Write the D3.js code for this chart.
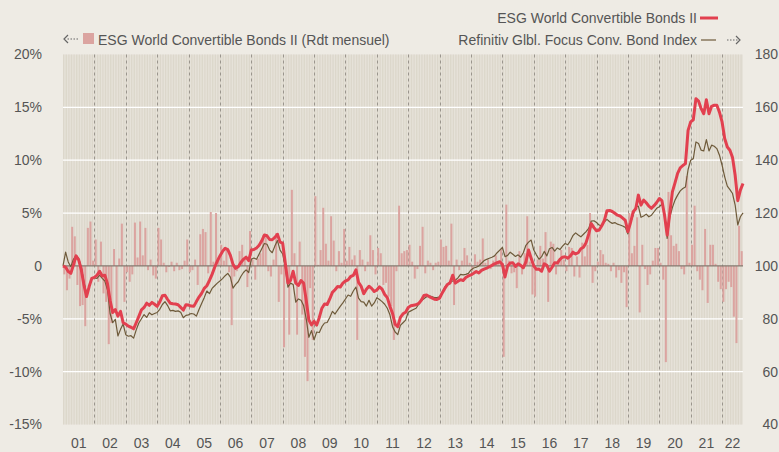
<!DOCTYPE html>
<html>
<head>
<meta charset="utf-8">
<script src="https://cdn.jsdelivr.net/npm/d3@7"></script>
<style>
  body { margin: 0; background: #eeebe4; }
  svg { display: block; font-family: "Liberation Sans", Arial, sans-serif; }
  .tick text { fill: #555; font-size: 14px; }
</style>
</head>
<body>
<div id="chart"></div>
<script>
// index values at month ends, Dec 2000 = 100
const esgIndex = [
  100, 99.5, 97.9, 97.2, 100.4, 103.8, 102.3, 98.5, 92.8, 88.4, 92.2, 95.3, 95.7,
  96.5, 98, 96.2, 96.5, 93.3, 87, 82.4, 83.5, 81, 82.8, 78.5, 78,
  77.2, 76.8, 76.2, 78.5, 80.9, 83.4, 84.3, 85.9, 85.1, 86.2, 85.5, 84.7,
  86.4, 88.7, 88.9, 87.3, 85.9, 85.7, 85.6, 85.3, 84.3, 83.3, 85.3, 85.2,
  84.8, 84.7, 86.5, 88.2, 89.6, 91.5, 92.5, 94.5, 96.8, 99.5, 101.8, 103.8,
  105.5, 106.7, 106.2, 104, 100.6, 99.1, 99.7, 101.3, 102.5, 103.3, 102, 106,
  106.2, 106.8, 107.8, 109.5, 111.7, 111.4, 110, 109.9, 110.8, 112, 109, 108.6,
  101, 93.5, 94.5, 98, 93.5, 92.6, 94.5, 93.5, 87, 79.6, 77.7, 79,
  77.6, 80.5, 84, 85.6, 85.4, 87.5, 90, 91, 92.2, 92, 93.5, 94.3,
  94.7, 96, 96.4, 98.5, 93.8, 92.3, 89.5, 91.2, 92.3, 91.5, 90.3, 90.9,
  92.1, 91.2, 89.2, 88, 84.7, 82, 78, 77, 80.5, 81.9, 82.5, 84.3,
  84.9, 85.1, 85.3, 85.8, 87, 88.8, 89, 88.4, 87.9, 87.4, 87.3, 87.8,
  89.8, 91.5, 93, 93.6, 96.5, 93.5, 94.2, 94.8, 94.5, 95.6, 96.2, 96.6,
  97.2, 97.9, 97.3, 98.3, 98.8, 99.2, 99.7, 100.2, 100.8, 101.2, 101.6, 100.6,
  95.8, 100, 101.1, 101.2, 99.8, 100.8, 100.2, 99.3, 101.5, 106, 102.9, 100,
  98.7, 98.8, 98, 100.8, 100.2, 98, 99.5, 101.2, 101.1, 102.5, 103.3, 103.5,
  102.9, 103.8, 105.2, 104.5, 105, 106.5, 107.1, 108.8, 112, 116, 114.5, 113.3,
  113.6, 115.2, 117.2, 120.9, 121, 120.6, 119.9, 119.2, 118.9, 118.1, 117.2, 113,
  116.4, 120.5, 121.6, 126.8, 123, 124.9, 123.9, 122.6, 121.8, 122.8, 124, 125.5,
  124.7, 119.2, 111.7, 119.9, 128, 131.4, 135, 137.1, 138, 138.7, 151.3, 154.5,
  155.3, 163.3, 162.4, 159.5, 157.6, 162.9, 157.6, 160.4, 160.8, 160.8, 158.2, 154.5,
  148.2, 145, 143.8, 141, 134.3, 124.7, 128.7, 131.2
];

const refinitivIndex = [
  100, 105.2, 101.5, 99.7, 102.5, 104, 102.8, 99.5, 94, 89.5, 92, 95, 95.5,
  95.3, 96.5, 95.3, 94.3, 91, 82, 78.5, 79.8, 73.5, 76, 78, 74,
  73.4, 73.6, 72.7, 75.8, 78.4, 80, 81.6, 80.5, 82.3, 81.5, 82, 82.4,
  83.6, 85.4, 86.5, 85, 83, 83.2, 82.8, 83, 82.5, 80.4, 81.3, 81.5,
  82, 81.8, 81, 83.5, 85.8, 88, 90.5, 89.5, 91.5, 92.5, 93.5, 94.3,
  95.2, 96.3, 97.2, 95.8, 91.6, 93, 94, 96, 97.5, 98.5, 97.5, 102.5,
  103, 102.5, 104.5, 106.5, 108.5, 108.2, 106, 105, 107.5, 109.6, 106, 104.5,
  99.5, 92, 93.5, 93, 86.3, 87.5, 87, 85, 80, 73, 75.5, 72,
  75, 74.8, 77, 78.4, 78.6, 80.5, 82.8, 81.8, 83.3, 84.7, 86, 87.5,
  89, 88.5, 90.5, 92, 87.8, 86.5, 86.3, 84.8, 87, 84.8, 86, 88,
  87.3, 86.5, 85.5, 84, 81.5, 77, 75, 74, 77.5, 78.5, 79.5, 82.5,
  83, 83.5, 84, 85.5, 86.8, 87.6, 88.3, 88.7, 88.4, 88, 88, 88.3,
  90, 92, 93.2, 93.8, 94.3, 94.6, 95.5, 96.8, 96.6, 96.8, 97.2, 98.5,
  99.2, 99.5, 100, 101, 102, 102.5, 102.9, 103.3, 103.8, 105, 106, 107,
  103.5, 104, 105.2, 104.4, 103.6, 104.2, 103.3, 105, 107.8, 109, 109.8, 106,
  104.2, 102.5, 103.5, 105.5, 103.8, 106.5, 107, 105.6, 106.8, 106.2, 107.5, 108.5,
  108, 109.5, 111.5, 112.5, 111.7, 111, 112, 113, 114.2, 117, 117.1, 116.4,
  115.5, 115.1, 116.7, 117.6, 116.7, 116.1, 116.4, 115.8, 115.5, 115.1, 114.6, 112.1,
  116.4, 119.2, 122.4, 122.6, 118.4, 118.9, 119.6, 118.6, 119.2, 120.5, 121.8, 122.4,
  123.4, 120.1, 110.4, 118.4, 122.1, 124.9, 126.8, 128.4, 129.3, 129.9, 136.5, 140,
  140.6, 146.9, 146.3, 143.8, 143.5, 147.8, 143.5, 145.7, 145.3, 144.4, 141.9, 138.1,
  133.7, 130.2, 128.9, 127.4, 123, 115.5, 118.6, 120.1
];

// monthly return in %, Jan 2001 .. Aug 2022
const monthlyReturn = [
  -0.8, -2.3, -1.2, 3.7, 2.8, -1.8, -3.8, -3.7, -5.7, 3.6, 4.2, 0.5,
  2.5, -1.5, 2.3, -2.6, -3.4, -7.4, -5.4, 1.6, -4.2, 0.7, 4.0, -3.4,
  -0.6, -1.5, -0.8, 4.1, 0.8, 4.2, 1.0, 3.6, -0.4, 0.6, -0.9, -1.2,
  3.6, 2.5, 0.3, -0.6, -0.1, 0.4, -0.5, 0.3, -0.4, -0.3, 0.5, 2.5,
  -0.6, -0.4, 0.6, -1.8, 3.0, 3.5, 3.2, -0.7, 5.1, 0.4, 5.0, 0.8,
  2.0, 0.5, 1.7, -0.6, -5.6, -1.0, -0.5, 1.4, 2.0, 0.8, -2.0, 3.3,
  0.6, -1.3, 0.7, 1.2, 2.9, 2.8, -0.5, -1.0, 0.6, 3.1, -3.4, -0.8,
  -7.7, -0.6, -6.5, 7.2, 1.2, -6.5, 2.3, -4.6, -8.6, -10.9, -2.1, -7.0,
  6.6, 0.1, 1.5, 5.5, 2.1, 0.5, 4.7, 2.4, -0.5, 1.4, 0.3, 3.5,
  0.5, 1.8, 0.6, 1.0, -7.0, 1.5, 0.6, -0.5, 0.4, 2.9, 1.5, -0.8,
  1.7, 1.2, -1.8, -1.6, -2.9, -3.8, -7.0, -0.5, 5.7, 1.2, 1.4, 1.5,
  2.0, 0.4, -1.2, -0.3, 1.9, 3.7, -0.7, 0.5, 0.3, -0.4, 0.3, 0.4,
  2.5, 1.8, 1.9, 0.5, 4.0, -3.7, 0.6, -0.4, 0.5, 1.7, 1.0, 0.3,
  -0.5, 1.1, 0.4, 0.6, 2.6, 0.3, 0.6, -0.3, 0.5, 1.0, 0.4, 1.6,
  -8.6, 5.8, 0.5, -0.7, -0.6, -2.1, 1.4, -0.8, 1.2, 4.7, 0.4, -2.7,
  -2.9, 0.6, 1.9, 0.7, 3.2, -3.4, 2.3, 2.1, -0.8, 0.4, 1.5, 0.6,
  -0.5, 1.8, 1.7, -1.0, 0.9, -1.1, 2.2, 0.9, 2.0, 5.0, -1.6, -0.5,
  0.4, 1.5, 1.1, 0.3, 0.2, -0.5, 0.3, -1.1, -0.4, -1.6, -0.6, -3.9,
  5.0, 1.2, 1.9, 4.6, -4.4, 2.0, -0.3, -1.8, -0.8, 0.5, 1.7, 1.7,
  0.3, -1.3, -9.1, 7.0, 2.9, 1.9, 2.1, 1.4, -0.3, -0.8, 8.5, 0.3,
  2.0, 5.7, -0.5, -1.3, -2.3, 3.5, -3.5, 2.0, 2.0, 0.2, -1.5, -2.2,
  -3.4, -2.2, -1.5, -2.0, -4.8, -7.3, 3.8, 1.4
];

const yearLabels = ["01","02","03","04","05","06","07","08","09","10","11",
                    "12","13","14","15","16","17","18","19","20","21","22"];
const leftTicks = [-15, -10, -5, 0, 5, 10, 15, 20];
const rightTicks = [40, 60, 80, 100, 120, 140, 160, 180];

/* ---------------------------------- */
const W = 779, H = 452;
const PLOT = {x0: 63, x1: 743, y0: 54.5, y1: 424.5};
const N = monthlyReturn.length;
const TXT = "#555";

var x = d3.scaleLinear().domain([0, N]).range([PLOT.x0, PLOT.x1]);
var yRet = d3.scaleLinear().domain([-15, 20]).range([PLOT.y1, PLOT.y0]);
var yIdx = d3.scaleLinear().domain([40, 180]).range([PLOT.y1, PLOT.y0]);

var svg = d3.select("#chart").append("svg")
            .attr("width", W)
            .attr("height", H);
svg.append("rect").attr("width", W).attr("height", H).attr("fill", "#eeebe4");

// striped plot background, one band per month
svg.append("rect")
   .attr("x", PLOT.x0).attr("y", PLOT.y0)
   .attr("width", PLOT.x1 - PLOT.x0).attr("height", PLOT.y1 - PLOT.y0)
   .attr("fill", "#e6e2d9");
svg.append("g").selectAll("rect")
   .data(d3.range(N))
   .enter().append("rect")
   .attr("x", (d) => x(d))
   .attr("y", PLOT.y0)
   .attr("width", (x(1) - x(0)) / 2)
   .attr("height", PLOT.y1 - PLOT.y0)
   .attr("fill", "#dcd7cb");

// horizontal grid
svg.append("g").selectAll("line")
   .data(leftTicks.filter((d) => d != 0 && d != -15 && d != 20))
   .enter().append("line")
   .attr("x1", PLOT.x0).attr("x2", PLOT.x1)
   .attr("y1", (d) => yRet(d)).attr("y2", (d) => yRet(d))
   .attr("stroke", "#fff").attr("stroke-width", 1.3);

// year separators
svg.append("g").selectAll("line")
   .data(yearLabels.slice(1))
   .enter().append("line")
   .attr("x1", (d, i) => Math.round(x((i + 1) * 12)) + 0.5)
   .attr("x2", (d, i) => Math.round(x((i + 1) * 12)) + 0.5)
   .attr("y1", PLOT.y0).attr("y2", PLOT.y1)
   .attr("stroke", "#9a958d").attr("stroke-width", 1)
   .attr("stroke-dasharray", "3,3");

// monthly return bars
svg.append("g").selectAll("rect")
   .data(monthlyReturn)
   .enter().append("rect")
   .attr("x", (d, i) => x(i) + 0.3)
   .attr("y", (d) => yRet(Math.max(0, d)))
   .attr("width", (x(1) - x(0)) - 0.6)
   .attr("height", (d) => Math.abs(yRet(d) - yRet(0)))
   .attr("fill", "#dba4a0");

// zero line
svg.append("line")
   .attr("x1", PLOT.x0).attr("x2", PLOT.x1)
   .attr("y1", yRet(0)).attr("y2", yRet(0))
   .attr("stroke", "#857a70").attr("stroke-width", 1.2);

var line = d3.line()
             .x((d, i) => x(i))
             .y((d) => yIdx(d));

svg.append("path")
   .datum(refinitivIndex)
   .attr("d", line)
   .attr("fill", "none")
   .attr("stroke", "#6e5a3a")
   .attr("stroke-width", 1.2)
   .attr("stroke-linejoin", "round");

svg.append("path")
   .datum(esgIndex)
   .attr("d", line)
   .attr("fill", "none")
   .attr("stroke", "#e2404f")
   .attr("stroke-width", 3)
   .attr("stroke-linejoin", "round");

// axes
svg.append("g")
   .attr("transform", "translate(" + (PLOT.x0 - 21) + ",0)")
   .call(d3.axisLeft(yRet).tickValues(leftTicks).tickSize(0)
           .tickFormat((d) => (d == 0 ? "0" : d + "%")))
   .call((g) => g.select(".domain").remove());

svg.append("g")
   .attr("transform", "translate(" + (W - 1) + ",0)")
   .call(d3.axisLeft(yIdx).tickValues(rightTicks).tickSize(0))
   .call((g) => g.select(".domain").remove());

svg.selectAll(".tick text").attr("dx", "0").attr("x", 0);

svg.append("g").selectAll("text")
   .data(yearLabels)
   .enter().append("text")
   .attr("x", (d, i) => (x(i * 12) + x(Math.min(N, (i + 1) * 12))) / 2)
   .attr("y", 448)
   .attr("text-anchor", "middle")
   .attr("fill", TXT)
   .attr("font-size", 14)
   .text((d) => d);

// dotted arrow for legends (dir -1 = left, 1 = right)
var dottedArrow = function(g, xTail, xHead, yc){
    var dir = xHead > xTail ? 1 : -1;
    g.append("line")
     .attr("x1", xTail).attr("x2", xHead - dir * 2)
     .attr("y1", yc).attr("y2", yc)
     .attr("stroke", "#666").attr("stroke-width", 1.2)
     .attr("stroke-dasharray", "1.5,1.5");
    g.append("path")
     .attr("d", "M" + (xHead - dir * 4) + "," + (yc - 4) + "L" + xHead + "," + yc +
                "L" + (xHead - dir * 4) + "," + (yc + 4))
     .attr("fill", "none")
     .attr("stroke", "#666").attr("stroke-width", 1.2);
};

// legends
var legL = svg.append("g");
dottedArrow(legL, 78, 64, 39);
legL.append("rect")
    .attr("x", 83).attr("y", 33).attr("width", 11).attr("height", 11)
    .attr("fill", "#dba4a0");
legL.append("text")
    .attr("x", 98).attr("y", 44.5)
    .attr("fill", TXT).attr("font-size", 14)
    .text("ESG World Convertible Bonds II (Rdt mensuel)");

var legR = svg.append("g");
legR.append("text")
    .attr("x", 697).attr("y", 23)
    .attr("text-anchor", "end")
    .attr("fill", TXT).attr("font-size", 14)
    .text("ESG World Convertible Bonds II");
legR.append("line")
    .attr("x1", 700).attr("x2", 718).attr("y1", 18).attr("y2", 18)
    .attr("stroke", "#e2404f").attr("stroke-width", 3);
legR.append("text")
    .attr("x", 697).attr("y", 45)
    .attr("text-anchor", "end")
    .attr("fill", TXT).attr("font-size", 14)
    .text("Refinitiv Glbl. Focus Conv. Bond Index");
legR.append("line")
    .attr("x1", 701).attr("x2", 716).attr("y1", 40).attr("y2", 40)
    .attr("stroke", "#6e5a3a").attr("stroke-width", 1.2);
dottedArrow(legR, 727, 740, 40);
</script>
</body>
</html>
